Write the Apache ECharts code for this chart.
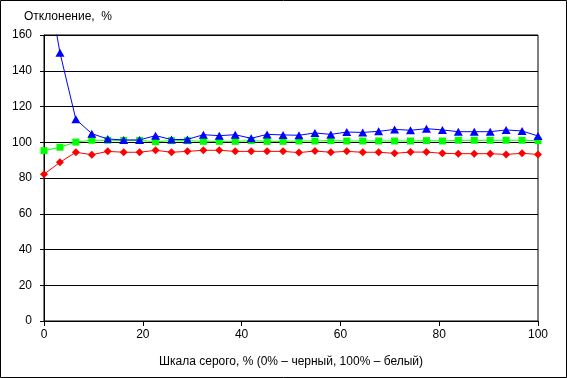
<!DOCTYPE html>
<html>
<head>
<meta charset="utf-8">
<script src="https://cdn.jsdelivr.net/npm/echarts@6/dist/echarts.min.js"></script>
<style>
  html, body { margin: 0; padding: 0; background: #fff; }
  #chart { width: 567px; height: 378px; }
</style>
</head>
<body>
<div id="chart"></div>
<script>
// grey-scale level, % (32 steps)
const grayLevels = [0, 3.23, 6.45, 9.68, 12.9, 16.13, 19.35, 22.58, 25.81, 29.03, 32.26, 35.48,
  38.71, 41.94, 45.16, 48.39, 51.61, 54.84, 58.06, 61.29, 64.52, 67.74, 70.97, 74.19,
  77.42, 80.65, 83.87, 87.1, 90.32, 93.55, 96.77, 100]

const blueValues = [201, 150.1, 112.8, 104.8, 101.8, 101.3, 101.3, 103.7, 101.5, 101.6, 104.2, 103.7,
  104.2, 102.2, 104.4, 104.1, 103.9, 105.2, 104.4, 105.7, 105.5, 106.1, 107.2, 106.7,
  107.6, 106.9, 105.9, 105.9, 105.9, 106.9, 106.3, 103.5]

const greenValues = [95.3, 97.2, 100.1, 101.1, 101.1, 101, 101, 100.3, 100.9, 100.9, 100.5, 100.5,
  100.5, 100.9, 100.5, 100.5, 100.7, 100.7, 100.9, 100.7, 100.7, 100.7, 100.7, 100.7,
  100.9, 100.7, 101.1, 101.1, 101.1, 101.1, 101.1, 100.9]

const redValues = [82.1, 88.8, 94.4, 93, 94.9, 94.4, 94.4, 95.5, 94.4, 94.9, 95.5, 95.5,
  94.9, 94.9, 94.9, 94.9, 94.2, 95.1, 94.4, 94.9, 94.4, 94.4, 93.8, 94.5,
  94.5, 93.8, 93.6, 93.6, 93.6, 93.2, 93.8, 93.2]

const xTicks = [0, 20, 40, 60, 80, 100]
const yTicks = [0, 20, 40, 60, 80, 100, 120, 140, 160]

const font = '"Liberation Sans", Arial, sans-serif'

function pairs(values) {
  return grayLevels.map((x, i) => [x, values[i]])
}

const chart = echarts.init(document.getElementById('chart'), null, { renderer: 'canvas' })

chart.setOption({
  backgroundColor: '#fff',
  animation: false,
  textStyle: { fontFamily: font, color: '#000' },
  title: {
    text: 'Отклонение,  %',
    left: 19,
    top: 6,
    textStyle: { fontFamily: font, fontSize: 12, fontWeight: 'normal', color: '#000' }
  },
  graphic: [{
    type: 'rect',
    shape: { x: 0.5, y: 0.5, width: 566, height: 377 },
    style: { fill: 'none', stroke: '#000', lineWidth: 1 },
    silent: true,
    z: 100
  }],
  grid: {
    left: 44,
    right: 29,
    top: 35,
    bottom: 57,
    show: true,
    borderColor: '#000',
    borderWidth: 1,
    backgroundColor: '#fff'
  },
  xAxis: {
    type: 'value',
    min: xTicks[0],
    max: xTicks[xTicks.length - 1],
    interval: 20,
    name: 'Шкала серого, % (0% – черный, 100% – белый)',
    nameLocation: 'middle',
    nameGap: 35,
    nameTextStyle: { fontFamily: font, fontSize: 12, color: '#000' },
    axisLine: { lineStyle: { color: '#000', width: 1 } },
    axisTick: { show: true, length: 5, lineStyle: { color: '#000' } },
    axisLabel: { fontFamily: font, fontSize: 12, color: '#000', margin: 8 },
    splitLine: { show: false }
  },
  yAxis: {
    type: 'value',
    min: yTicks[0],
    max: yTicks[yTicks.length - 1],
    interval: 20,
    axisLine: { show: true, lineStyle: { color: '#000', width: 1 } },
    axisTick: { show: true, length: 4, lineStyle: { color: '#000' } },
    axisLabel: { fontFamily: font, fontSize: 12, color: '#000', margin: 12 },
    splitLine: { show: true, lineStyle: { color: '#000', width: 1 } }
  },
  series: [
    {
      name: 'red',
      type: 'line',
      data: pairs(redValues),
      symbol: 'diamond',
      symbolSize: 8,
      lineStyle: { color: '#ff0000', width: 1 },
      itemStyle: { color: '#ff0000' },
      clip: true,
      z: 3
    },
    {
      name: 'green',
      type: 'line',
      data: pairs(greenValues),
      symbol: 'rect',
      symbolSize: 7,
      lineStyle: { color: '#00ff00', width: 1 },
      itemStyle: { color: '#00ff00' },
      clip: true,
      z: 4
    },
    {
      name: 'blue',
      type: 'line',
      data: pairs(blueValues),
      symbol: 'triangle',
      symbolSize: [9, 8],
      lineStyle: { color: '#0000ff', width: 1 },
      itemStyle: { color: '#0000ff' },
      clip: true,
      z: 5
    }
  ]
})
</script>
</body>
</html>
